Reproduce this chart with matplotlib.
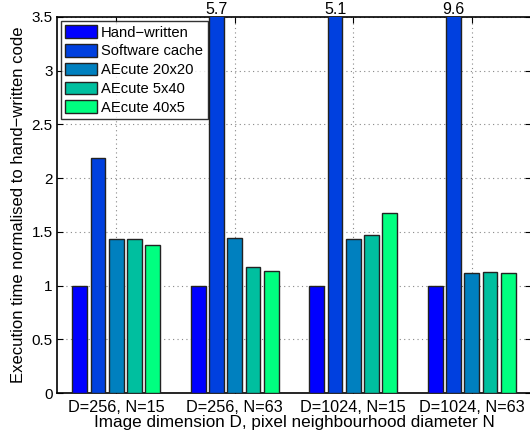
import matplotlib
matplotlib.use("Agg")
import matplotlib.pyplot as plt
import numpy as np

plt.rcParams['font.family'] = ['Liberation Sans', 'DejaVu Sans']

groups = ["D=256, N=15", "D=256, N=63", "D=1024, N=15", "D=1024, N=63"]
series = ["Hand\u2212written", "Software cache", "AEcute 20x20", "AEcute 5x40", "AEcute 40x5"]
hand_written = [1.0, 1.0, 1.0, 1.0]
software_cache = [2.19, 5.7, 5.1, 9.6]
aecute_20x20 = [1.43, 1.44, 1.43, 1.12]
aecute_5x40 = [1.43, 1.17, 1.47, 1.125]
aecute_40x5 = [1.38, 1.14, 1.68, 1.12]
yticks = [0, 0.5, 1, 1.5, 2, 2.5, 3, 3.5]
ymax = 3.5

colors = ["#0000ff", "#0040df", "#0080bf", "#00bf9f", "#00ff80"]
data = [hand_written, software_cache, aecute_20x20, aecute_5x40, aecute_40x5]

fig = plt.figure(figsize=(5.30, 4.36), dpi=100)
ax = fig.add_axes([57/530, 1 - 393/436, 474/530, 376/436])

x = np.arange(1, len(groups) + 1)
pitch = 0.154
width = 0.126
for i, (vals, c, name) in enumerate(zip(data, colors, series)):
    pos = x + (i - 2) * pitch
    ax.bar(pos, vals, width=width, color=c, edgecolor="#222222", linewidth=1.0,
           label=name, zorder=3)
    for p, v in zip(pos, vals):
        if v > ymax:
            ax.text(p, ymax, f"{v:.1f}", ha="center", va="bottom", fontsize=11.5,
                    clip_on=False)

ax.set_xlim(0.5, 4.5)
ax.set_ylim(0, ymax)
ax.set_xticks(x)
ax.set_xticklabels(groups, fontsize=11.7)
ax.set_yticks(yticks)
ax.set_yticklabels([f"{t:g}" for t in yticks], fontsize=11)
ax.tick_params(direction="in", top=True, right=True, length=4, width=0.8, pad=3)
ax.tick_params(axis="x", pad=5)
ax.grid(True, linestyle=(0, (1, 3)), color="#888888", linewidth=0.8, zorder=0)
ax.set_axisbelow(True)
for s in ax.spines.values():
    s.set_linewidth(1.2)
ax.set_xlabel("Image dimension D, pixel neighbourhood diameter N", fontsize=12.3, labelpad=0)
ax.set_ylabel("Execution time normalised to hand\u2212written code", fontsize=12, labelpad=4)

leg = ax.legend(loc="upper left", fontsize=10.6, frameon=True, fancybox=False,
                edgecolor="black", borderpad=0.3, labelspacing=0.3,
                handlelength=2.2, handleheight=0.95, handletextpad=0.25,
                borderaxespad=0.25)
leg.get_frame().set_linewidth(1.0)
leg.set_zorder(5)

fig.savefig("out.png", dpi=100)
